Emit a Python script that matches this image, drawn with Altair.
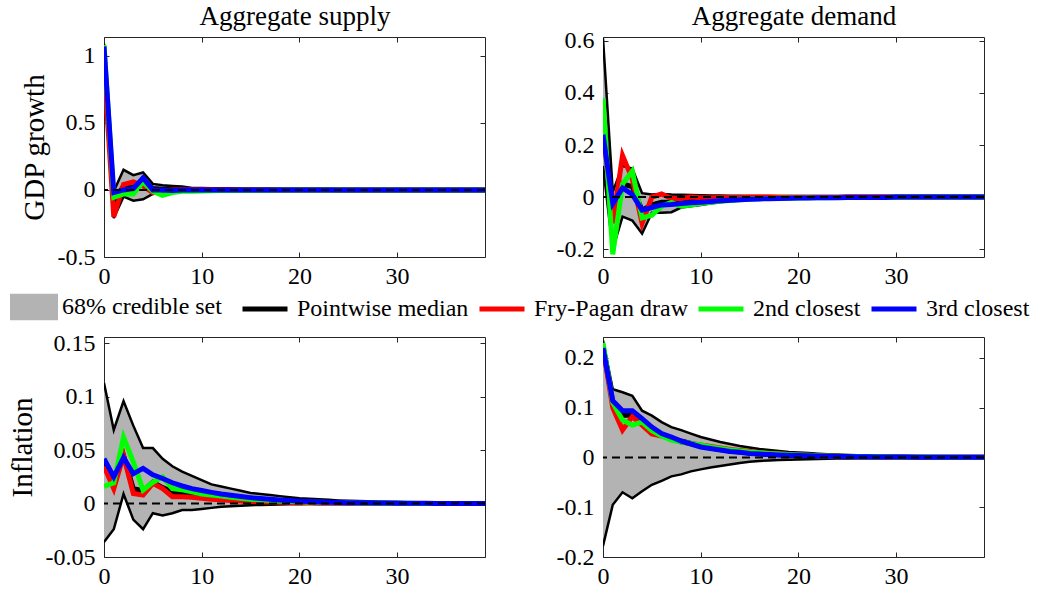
import altair as alt
import pandas as pd

FONT = "Liberation Serif"
horizon = list(range(40))

# ---------------- Aggregate supply, GDP growth ----------------
as_gdp_ub = [1.09, -0.01, 0.15, 0.11, 0.13, 0.045, 0.035, 0.030, 0.025, 0.015,
             0.015, 0.012, 0.010, 0.009, 0.008, 0.008, 0.007, 0.006, 0.006, 0.005,
             0.005, 0.005, 0.004, 0.004, 0.004, 0.004, 0.003, 0.003, 0.003, 0.003,
             0.003, 0.003, 0.002, 0.002, 0.002, 0.002, 0.002, 0.002, 0.002, 0.002]
as_gdp_lb = [0.85, -0.21, -0.05, -0.08, -0.07, -0.030, -0.020, -0.012, -0.010, -0.008,
             -0.006, -0.005, -0.005, -0.004, -0.004, -0.003, -0.003, -0.003, -0.002, -0.002,
             -0.002, -0.002, -0.002, -0.001, -0.001, -0.001, -0.001, -0.001, -0.001, -0.001,
             -0.001, -0.001, -0.001, -0.001, -0.001, -0.001, -0.001, -0.001, -0.001, -0.001]
as_gdp_med = [1.02, -0.09, 0.03, 0.02, 0.06, 0.010, 0.005, 0.008, 0.006, 0.004,
              0.003, 0.003, 0.002, 0.002, 0.002, 0.001, 0.001, 0.001, 0.001, 0.001,
              0.001, 0.001, 0.001, 0.001, 0.000, 0.000, 0.000, 0.000, 0.000, 0.000,
              0.000, 0.000, 0.000, 0.000, 0.000, 0.000, 0.000, 0.000, 0.000, 0.000]
as_gdp_fp = [0.93, -0.20, 0.04, 0.06, 0.03, -0.020, -0.010, 0.000, 0.002, 0.002,
             0.001, 0.001, 0.000, 0.000, 0.000, 0.000, 0.000, 0.000, 0.000, 0.000,
             0.000, 0.000, 0.000, 0.000, 0.000, 0.000, 0.000, 0.000, 0.000, 0.000,
             0.000, 0.000, 0.000, 0.000, 0.000, 0.000, 0.000, 0.000, 0.000, 0.000]
as_gdp_c2 = [1.08, -0.055, -0.03, -0.03, 0.06, -0.010, -0.040, -0.020, -0.010, -0.010,
             -0.008, -0.006, -0.005, -0.004, -0.003, -0.003, -0.002, -0.002, -0.001, -0.001,
             -0.001, -0.001, 0.000, 0.000, 0.000, 0.000, 0.000, 0.000, 0.000, 0.000,
             0.000, 0.000, 0.000, 0.000, 0.000, 0.000, 0.000, 0.000, 0.000, 0.000]
as_gdp_c3 = [1.07, -0.02, 0.00, 0.01, 0.09, 0.000, 0.000, -0.005, 0.000, 0.000,
             0.000, 0.000, 0.000, 0.000, 0.000, 0.000, 0.000, 0.000, 0.000, 0.000,
             0.000, 0.000, 0.000, 0.000, 0.000, 0.000, 0.000, 0.000, 0.000, 0.000,
             0.000, 0.000, 0.000, 0.000, 0.000, 0.000, 0.000, 0.000, 0.000, 0.000]

# ---------------- Aggregate demand, GDP growth ----------------
ad_gdp_ub = [0.61, 0.02, 0.12, 0.11, 0.015, 0.010, 0.012, 0.010, 0.009, 0.008,
             0.007, 0.006, 0.006, 0.005, 0.005, 0.004, 0.004, 0.004, 0.003, 0.003,
             0.003, 0.003, 0.003, 0.002, 0.002, 0.002, 0.002, 0.002, 0.002, 0.002,
             0.002, 0.002, 0.002, 0.002, 0.002, 0.002, 0.002, 0.002, 0.002, 0.002]
ad_gdp_lb = [0.12, -0.20, -0.075, -0.09, -0.14, -0.06, -0.06, -0.058, -0.040, -0.035,
             -0.030, -0.025, -0.020, -0.016, -0.013, -0.011, -0.009, -0.008, -0.007, -0.006,
             -0.005, -0.005, -0.004, -0.004, -0.003, -0.003, -0.003, -0.003, -0.002, -0.002,
             -0.002, -0.002, -0.002, -0.002, -0.002, -0.002, -0.002, -0.002, -0.002, -0.002]
ad_gdp_med = [0.32, -0.05, 0.05, 0.04, -0.05, -0.03, -0.02, -0.02, -0.015, -0.012,
              -0.010, -0.008, -0.006, -0.005, -0.004, -0.003, -0.003, -0.002, -0.002, -0.002,
              -0.001, -0.001, -0.001, -0.001, -0.001, 0.000, 0.000, 0.000, 0.000, 0.000,
              0.000, 0.000, 0.000, 0.000, 0.000, 0.000, 0.000, 0.000, 0.000, 0.000]
ad_gdp_fp = [0.27, -0.10, 0.16, 0.07, -0.10, 0.000, 0.012, -0.005, -0.005, 0.000,
             -0.002, -0.002, -0.001, -0.001, -0.001, 0.000, 0.000, 0.000, 0.000, 0.000,
             0.000, 0.000, 0.000, 0.000, 0.000, 0.000, 0.000, 0.000, 0.000, 0.000,
             0.000, 0.000, 0.000, 0.000, 0.000, 0.000, 0.000, 0.000, 0.000, 0.000]
ad_gdp_c2 = [0.38, -0.22, 0.05, 0.10, -0.08, -0.07, -0.035, -0.020, -0.035, -0.030,
             -0.025, -0.020, -0.016, -0.013, -0.010, -0.008, -0.006, -0.005, -0.004, -0.003,
             -0.003, -0.002, -0.002, -0.002, -0.001, -0.001, -0.001, -0.001, -0.001, -0.001,
             0.000, 0.000, 0.000, 0.000, 0.000, 0.000, 0.000, 0.000, 0.000, 0.000]
ad_gdp_c3 = [0.24, -0.025, 0.035, 0.010, -0.05, -0.04, -0.03, -0.028, -0.025, -0.022,
             -0.020, -0.017, -0.014, -0.012, -0.010, -0.008, -0.007, -0.006, -0.005, -0.004,
             -0.003, -0.003, -0.002, -0.002, -0.002, -0.001, -0.001, -0.001, -0.001, -0.001,
             0.000, 0.000, 0.000, 0.000, 0.000, 0.000, 0.000, 0.000, 0.000, 0.000]

# ---------------- Aggregate supply, Inflation ----------------
as_inf_ub = [0.113, 0.069, 0.096, 0.073, 0.052, 0.052, 0.042, 0.035, 0.030, 0.026,
             0.022, 0.018, 0.016, 0.014, 0.012, 0.010, 0.009, 0.008, 0.007, 0.006,
             0.005, 0.0045, 0.004, 0.0035, 0.003, 0.0027, 0.0024, 0.0021, 0.0018, 0.0016,
             0.0014, 0.0012, 0.0011, 0.0010, 0.0009, 0.0008, 0.0007, 0.0006, 0.0005, 0.0005]
as_inf_lb = [-0.036, -0.024, 0.009, -0.015, -0.024, -0.009, -0.011, -0.009, -0.006, -0.006,
             -0.005, -0.004, -0.003, -0.0025, -0.002, -0.0015, -0.0012, -0.001, -0.0008, -0.0006,
             -0.0005, -0.0004, -0.0004, -0.0003, -0.0003, -0.0002, -0.0002, -0.0002, -0.0002, -0.0001,
             -0.0001, -0.0001, -0.0001, -0.0001, -0.0001, -0.0001, -0.0001, -0.0001, -0.0001, -0.0001]
as_inf_med = [0.038, 0.020, 0.045, 0.014, 0.012, 0.020, 0.015, 0.011, 0.009, 0.0075,
              0.0065, 0.0055, 0.0045, 0.004, 0.0035, 0.003, 0.0025, 0.002, 0.0017, 0.0014,
              0.0012, 0.001, 0.0009, 0.0008, 0.0007, 0.0006, 0.0005, 0.0004, 0.0004, 0.0003,
              0.0003, 0.0002, 0.0002, 0.0002, 0.0002, 0.0001, 0.0001, 0.0001, 0.0001, 0.0001]
as_inf_fp = [0.035, 0.014, 0.045, 0.0095, 0.008, 0.019, 0.014, 0.0065, 0.0065, 0.006,
             0.005, 0.004, 0.0035, 0.003, 0.0025, 0.002, 0.0018, 0.0015, 0.0012, 0.001,
             0.0008, 0.0007, 0.0006, 0.0005, 0.0004, 0.0004, 0.0003, 0.0003, 0.0002, 0.0002,
             0.0002, 0.0002, 0.0001, 0.0001, 0.0001, 0.0001, 0.0001, 0.0001, 0.0001, 0.0001]
as_inf_c2 = [0.016, 0.0195, 0.062, 0.039, 0.0127, 0.020, 0.025, 0.014, 0.013, 0.011,
             0.009, 0.008, 0.007, 0.006, 0.005, 0.004, 0.0035, 0.003, 0.0025, 0.002,
             0.0017, 0.0014, 0.0012, 0.001, 0.0008, 0.0007, 0.0006, 0.0005, 0.0004, 0.0004,
             0.0003, 0.0003, 0.0002, 0.0002, 0.0002, 0.0001, 0.0001, 0.0001, 0.0001, 0.0001]
as_inf_c3 = [0.042, 0.025, 0.043, 0.028, 0.033, 0.027, 0.0235, 0.0195, 0.0165, 0.014,
             0.0122, 0.0105, 0.009, 0.0078, 0.0066, 0.0056, 0.0047, 0.004, 0.0034, 0.0028,
             0.0023, 0.0019, 0.0016, 0.0013, 0.0011, 0.0009, 0.0008, 0.0007, 0.0006, 0.0005,
             0.0004, 0.0004, 0.0003, 0.0003, 0.0002, 0.0002, 0.0002, 0.0001, 0.0001, 0.0001]

# ---------------- Aggregate demand, Inflation ----------------
ad_inf_ub = [0.235, 0.137, 0.131, 0.124, 0.094, 0.084, 0.071, 0.061, 0.055, 0.048,
             0.041, 0.036, 0.031, 0.027, 0.023, 0.020, 0.017, 0.015, 0.013, 0.011,
             0.010, 0.0088, 0.0076, 0.0066, 0.0058, 0.0050, 0.0044, 0.0038, 0.0033, 0.0029,
             0.0025, 0.0022, 0.0019, 0.0017, 0.0015, 0.0013, 0.0012, 0.0011, 0.0010, 0.0009]
ad_inf_lb = [-0.178, -0.095, -0.070, -0.082, -0.068, -0.055, -0.047, -0.038, -0.034, -0.028,
             -0.024, -0.020, -0.017, -0.014, -0.011, -0.0086, -0.007, -0.006, -0.005, -0.0045,
             -0.004, -0.0035, -0.003, -0.0026, -0.0022, -0.002, -0.0017, -0.0015, -0.0013, -0.0011,
             -0.001, -0.0009, -0.0008, -0.0007, -0.0006, -0.0005, -0.0005, -0.0004, -0.0004, -0.0003]
ad_inf_med = [0.225, 0.110, 0.085, 0.085, 0.070, 0.057, 0.046, 0.039, 0.033, 0.028,
              0.023, 0.019, 0.016, 0.013, 0.011, 0.009, 0.0075, 0.0062, 0.0052, 0.0043,
              0.0036, 0.003, 0.0025, 0.0021, 0.0018, 0.0015, 0.0013, 0.0011, 0.0009, 0.0008,
              0.0007, 0.0006, 0.0005, 0.0004, 0.0004, 0.0003, 0.0003, 0.0002, 0.0002, 0.0002]
ad_inf_fp = [0.220, 0.100, 0.055, 0.082, 0.065, 0.047, 0.043, 0.038, 0.031, 0.028,
             0.025, 0.022, 0.019, 0.016, 0.014, 0.012, 0.010, 0.0085, 0.0072, 0.006,
             0.005, 0.0042, 0.0035, 0.003, 0.0025, 0.0021, 0.0018, 0.0015, 0.0013, 0.0011,
             0.0009, 0.0008, 0.0007, 0.0006, 0.0005, 0.0004, 0.0004, 0.0003, 0.0003, 0.0002]
ad_inf_c2 = [0.230, 0.110, 0.075, 0.065, 0.071, 0.054, 0.043, 0.035, 0.031, 0.028,
             0.025, 0.021, 0.018, 0.015, 0.013, 0.011, 0.0095, 0.008, 0.007, 0.006,
             0.005, 0.0042, 0.0036, 0.003, 0.0026, 0.0022, 0.0019, 0.0016, 0.0014, 0.0012,
             0.001, 0.0009, 0.0008, 0.0007, 0.0006, 0.0005, 0.0004, 0.0004, 0.0003, 0.0003]
ad_inf_c3 = [0.220, 0.114, 0.094, 0.094, 0.078, 0.061, 0.048, 0.041, 0.033, 0.027,
             0.021, 0.018, 0.015, 0.012, 0.0105, 0.008, 0.0068, 0.0058, 0.005, 0.0043,
             0.0037, 0.0032, 0.0027, 0.0023, 0.002, 0.0017, 0.0015, 0.0013, 0.0011, 0.0009,
             0.0008, 0.0007, 0.0006, 0.0005, 0.0004, 0.0004, 0.0003, 0.0003, 0.0002, 0.0002]

band_label = "68% credible set"
line_labels = ["Pointwise median", "Fry-Pagan draw", "2nd closest", "3rd closest"]
line_colors = ["#000000", "#ff0000", "#00ff00", "#0000ff"]
x_ticks = [0, 10, 20, 30]

FRAME = "#262626"
W, H = 381, 220

fill_scale = alt.Scale(domain=[band_label], range=["#b3b3b3"])
stroke_scale = alt.Scale(domain=line_labels, range=line_colors)

fill_legend = alt.Legend(
    title=None, orient="none", legendX=-94, legendY=246, direction="horizontal",
    symbolType="M-1,-0.55L1,-0.55L1,0.55L-1,0.55Z", symbolSize=2304,
    symbolStrokeWidth=0, labelFont=FONT, labelFontSize=24, labelColor="black",
    labelOffset=4, labelLimit=400,
)
stroke_legend = alt.Legend(
    title=None, orient="none", legendX=136, legendY=247, direction="horizontal",
    symbolType="stroke", symbolSize=2025, symbolStrokeWidth=5,
    labelFont=FONT, labelFontSize=24, labelColor="black", labelOffset=7,
    columnPadding=0, labelLimit=400,
)

MINUS_FIX = "replace(datum.label, '\u2212', '-')"


def panel(vals, ydom, yticks, title=None, ytitle=None, ytitle_x=-62):
    ub, lb, med, fp, c2, c3 = vals
    for v in vals:
        assert len(v) == 40, len(v)
    df = pd.DataFrame({"t": horizon, "ub": ub, "lb": lb, "med": med,
                       "fp": fp, "c2": c2, "c3": c3})
    base = alt.Chart(df)
    xs = alt.Scale(domain=[0, 39], nice=False, zero=False)
    ys = alt.Scale(domain=ydom, nice=False, zero=False)

    x_lab = alt.X("t:Q", scale=xs, axis=alt.Axis(
        values=x_ticks, tickSize=0, domain=False, grid=False, title=None,
        labelFont=FONT, labelFontSize=24, labelColor="black", labelPadding=7,
        labelFlush=False, format="d"))
    y_axis_kw = dict(values=yticks, tickSize=0, domain=False, grid=False,
                     labelFont=FONT, labelFontSize=24, labelColor="black",
                     labelPadding=9, labelExpr=MINUS_FIX, labelFlush=False,
                     format="~g")
    if ytitle:
        y_axis_kw.update(title=ytitle, titleFont=FONT, titleFontSize=29,
                         titleFontWeight="normal", titleColor="black",
                         titleX=ytitle_x, titleY=H / 2, titleAngle=270,
                         titleBaseline="alphabetic", titleAlign="center")
    else:
        y_axis_kw.update(title=None)
    y_lab = alt.Y("lb:Q", scale=ys, axis=alt.Axis(**y_axis_kw))

    def tick_axis(orient, ttl=None):
        kw = dict(orient=orient, offset=-5, tickSize=5, tickColor=FRAME,
                  tickWidth=1, labels=False, domain=False, grid=False,
                  values=(x_ticks if orient in ("bottom", "top") else yticks))
        if ttl:
            kw.update(title=ttl, titleFont=FONT, titleFontSize=27,
                      titleFontWeight="normal", titleColor="black",
                      titleX=W / 2, titleY=-18, titleAngle=0,
                      titleAlign="center", titleBaseline="alphabetic")
        else:
            kw.update(title=None)
        return alt.Axis(**kw)

    band = base.mark_area(clip=True).transform_calculate(
        series=f"'{band_label}'"
    ).encode(
        x=x_lab, y=y_lab, y2="ub:Q",
        fill=alt.Fill("series:N", scale=fill_scale, legend=fill_legend),
    )
    ub_line = base.mark_line(color="black", strokeWidth=2.5, clip=True).encode(
        x=alt.X("t:Q", scale=xs, axis=tick_axis("bottom")),
        y=alt.Y("ub:Q", scale=ys, axis=tick_axis("left")),
    )
    lb_line = base.mark_line(color="black", strokeWidth=2.5, clip=True).encode(
        x=alt.X("t:Q", scale=xs, axis=tick_axis("top", title)),
        y=alt.Y("lb:Q", scale=ys, axis=tick_axis("right")),
    )
    layers = [band, ub_line, lb_line]
    for field, name in zip(["med", "fp", "c2", "c3"], line_labels):
        layers.append(base.mark_line(strokeWidth=5, clip=True).transform_calculate(
            series=f"'{name}'"
        ).encode(
            x=alt.X("t:Q", scale=xs, axis=None),
            y=alt.Y(f"{field}:Q", scale=ys, axis=None),
            stroke=alt.Stroke("series:N", scale=stroke_scale, legend=stroke_legend),
        ))
    zero = alt.Chart(pd.DataFrame({"z": [0.0]})).mark_rule(
        color="black", strokeWidth=2, strokeDash=[8, 5]).encode(
        y=alt.Y("z:Q", scale=ys, axis=None))
    layers.append(zero)

    return alt.layer(*layers).resolve_axis(
        x="independent", y="independent").properties(width=W, height=H)


p1 = panel([as_gdp_ub, as_gdp_lb, as_gdp_med, as_gdp_fp, as_gdp_c2, as_gdp_c3],
           [-0.5, 1.14], [-0.5, 0, 0.5, 1], title="Aggregate supply",
           ytitle="GDP growth", ytitle_x=-61)
p2 = panel([ad_gdp_ub, ad_gdp_lb, ad_gdp_med, ad_gdp_fp, ad_gdp_c2, ad_gdp_c3],
           [-0.23, 0.615], [-0.2, 0, 0.2, 0.4, 0.6], title="Aggregate demand")
p3 = panel([as_inf_ub, as_inf_lb, as_inf_med, as_inf_fp, as_inf_c2, as_inf_c3],
           [-0.05, 0.156], [-0.05, 0, 0.05, 0.1, 0.15],
           ytitle="Inflation", ytitle_x=-73)
p4 = panel([ad_inf_ub, ad_inf_lb, ad_inf_med, ad_inf_fp, ad_inf_c2, ad_inf_c3],
           [-0.2, 0.242], [-0.2, -0.1, 0, 0.1, 0.2])

chart = alt.concat(
    p1, p2, p3, p4, columns=2, bounds="flush",
    spacing={"row": 80, "column": 118},
).configure(
    background="white", padding={"left": 7, "top": 1, "right": 2, "bottom": 2}
).configure_view(
    stroke=FRAME, strokeWidth=1
)

chart.save("out.html", embed_options={"renderer": "svg", "actions": False})
